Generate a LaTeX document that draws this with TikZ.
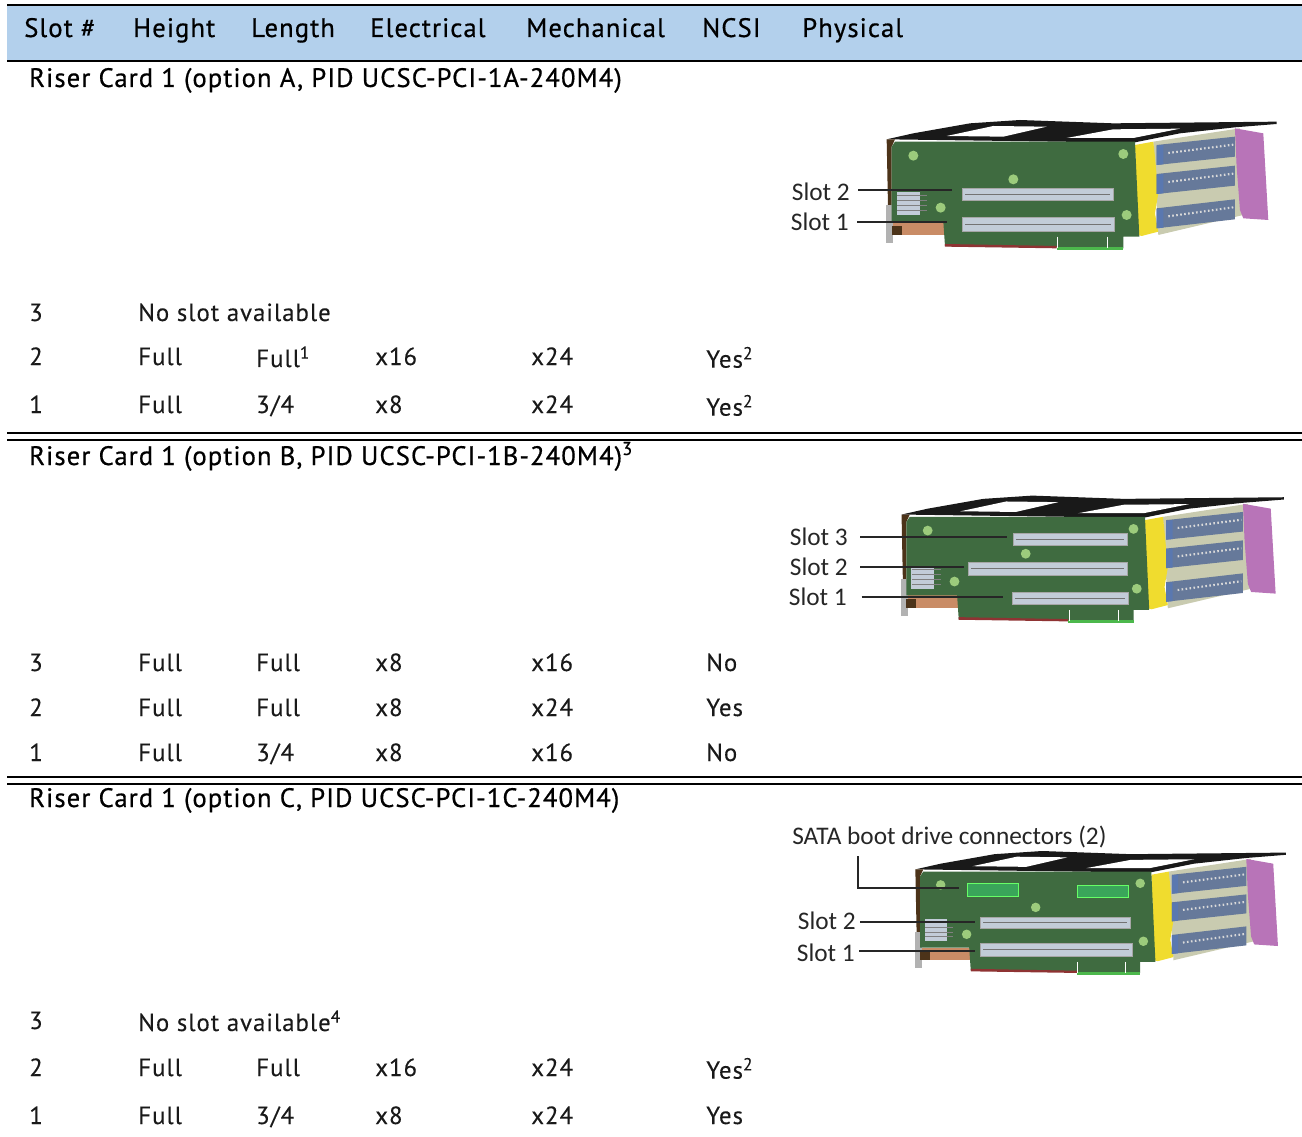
\documentclass[tikz,border=0pt]{standalone}
\usepackage{fontspec}
\setmainfont{PT Sans}[LetterSpace=4,FakeBold=0.15]
\newfontface\headfont{PT Sans}[FakeBold=0.6,LetterSpace=4]
\newfontfamily\calloutfont{Carlito}
\usetikzlibrary{positioning, arrows.meta}

\definecolor{headblue}{HTML}{B3D0EC}
\definecolor{boardgreen}{HTML}{3F6B40}
\definecolor{padgreen}{HTML}{9CCB7C}
\definecolor{slotgrey}{HTML}{C2CCD8}
\definecolor{cardyellow}{HTML}{F0DC2E}
\definecolor{cardkhaki}{HTML}{C9CBB0}
\definecolor{bandblue}{HTML}{66799A}
\definecolor{bandcap}{HTML}{5A78B0}
\definecolor{cardpurple}{HTML}{B874B8}
\definecolor{cardcopper}{HTML}{C98C66}
\definecolor{satagreen}{HTML}{3AA55A}

\begin{document}
\begin{tikzpicture}[
    x=0.75pt, y=-0.75pt,
    cell/.style={anchor=base west, inner sep=0pt, font=\fontsize{18.6}{22}\selectfont, text=black!90},
    head/.style={cell, text=black, font=\headfont\fontsize{20}{24}\selectfont},
    callout/.style={inner sep=0pt, font=\calloutfont\fontsize{19}{22}\selectfont, text=black!85},
    leader/.style={draw=black!85, line width=0.9pt},
    rule/.style={draw=black, line width=1.5pt},
    slotbody/.style={fill=slotgrey, draw=black!35, line width=0.3pt},
    slotline/.style={draw=black!55, line width=0.6pt},
    sata/.style={fill=satagreen, draw=green!60!white, line width=0.5pt},
    riserbody/.pic={
        % frame on top
        \fill[black!90] (320,118) -- (400,100) -- (570,70) -- (720,60) -- (1000,70) -- (1490,65)
            -- (1490,72) -- (1365,82) -- (1200,100) -- (1060,128) -- cycle;
        \fill[white] (500,108) -- (640,78) -- (800,80) -- (670,110) -- cycle;
        \fill[white] (860,114) -- (1000,88) -- (1200,86) -- (1060,114) -- cycle;
        % back plate
        \fill[cardkhaki] (1120,125) -- (1380,85) -- (1390,345) -- (1135,405) -- cycle;
        \fill[cardyellow] (1065,135) -- (1120,125) -- (1125,170) -- (1135,280) -- (1125,340)
            -- (1135,395) -- (1085,408) -- (1075,405) -- cycle;
        \foreach \ya/\yb in {135/110, 222/197, 325/298}{
            \fill[bandblue] (1130,\ya) -- (1365,\yb) -- (1365,\yb+60) -- (1130,\ya+60) -- cycle;
            \draw[white!85!black, line width=1.6pt, dash pattern=on 1.2pt off 1.8pt]
                (1165,\ya+24) -- (1360,\yb+24);
            \fill[bandcap] (1130,\ya+2) -- (1150,\ya) -- (1150,\ya+58) -- (1130,\ya+60) -- cycle;
        }
        \fill[cardpurple] (1365,85) -- (1450,100) -- (1465,360) -- (1390,355) -- (1380,330) -- (1370,200) -- cycle;
        % board
        \fill[black!60!brown] (320,118) -- (345,118) -- (335,140) -- (335,370) -- (325,370) -- cycle;
        \fill[cardcopper] (335,365) -- (495,365) -- (495,405) -- (335,405) -- cycle;
        \fill[black!30] (318,315) -- (340,315) -- (340,430) -- (318,430) -- cycle;
        \fill[black!60!brown] (335,378) -- (365,378) -- (365,405) -- (335,405) -- cycle;
        \fill[boardgreen] (345,125) -- (1065,125) -- (1078,410) -- (1030,410) -- (1030,445)
            -- (495,438) -- (490,365) -- (335,365) -- (335,140) -- cycle;
        \fill[red!45!black!80] (495,432) -- (830,438) -- (830,445) -- (495,440) -- cycle;
        \fill[green!60!black!70] (830,442) -- (1030,442) -- (1030,450) -- (830,450) -- cycle;
        \draw[white, line width=0.4pt] (832,410) -- (832,445) (983,410) -- (983,445);
        % small block
        \fill[slotgrey] (350,275) -- (420,275) -- (420,345) -- (350,345) -- cycle;
        \foreach \ya in {285,300,315,330}{
            \draw[black!50, line width=0.3pt] (352,\ya) -- (440,\ya);
        }
        % mounting pads
        \foreach \xa/\ya in {400/167, 1030/162, 700/238, 482/323, 1040/345}{
            \fill[padgreen] (\xa,\ya) circle (15);
        }
    },
]
\useasboundingbox (0,0) rectangle (1302,1137);

% Header
\fill[headblue] (7,6) rectangle (1302,61);
\draw[rule] (7,5.5) -- (1302,5.5);
\draw[rule] (7,61) -- (1302,61);
\node[head] (hslot) at (24,37) {Slot \#};
\node[head] (hheight) at (133,37) {Height};
\node[head] (hlength) at (251,37) {Length};
\node[head] (helec) at (370,37) {Electrical};
\node[head] (hmech) at (526,37) {Mechanical};
\node[head] (hncsi) at (702,37) {NCSI};
\node[head] (hphys) at (802,37) {Physical};

% Section titles
\node[head] (capa) at (29,87) {Riser Card 1 (option A, PID UCSC-PCI-1A-240M4)};
\node[head] (capb) at (29,465) {Riser Card 1 (option B, PID UCSC-PCI-1B-240M4)\textsuperscript{3}};
\node[head] (capc) at (29,807) {Riser Card 1 (option C, PID UCSC-PCI-1C-240M4)};

% Double rules
\foreach \ya in {433, 440, 777, 784}{
    \draw[rule] (7,\ya) -- (1302,\ya);
}

% Rows with no slot
\node[cell] (a3slot) at (29,321) {3};
\node[cell] (a3note) at (138,321) {No slot available};
\node[cell] (c3slot) at (29,1029) {3};
\node[cell] (c3note) at (138,1031) {No slot available\textsuperscript{4}};

% Rows
\foreach \rowid/\ya/\slotno/\hgt/\lng/\elec/\mech/\ncsi in {
    a2/365/2/Full/{\raisebox{-1.5pt}{Full\textsuperscript{1}}}/x16/x24/{\raisebox{-2pt}{Yes\textsuperscript{2}}},
    a1/413/1/Full/{3/4}/x8/x24/{\raisebox{-2pt}{Yes\textsuperscript{2}}},
    b3/671/3/Full/Full/x8/x16/No,
    b2/716/2/Full/Full/x8/x24/Yes,
    b1/761/1/Full/{3/4}/x8/x16/No,
    c2/1076/2/Full/Full/x16/x24/{\raisebox{-2pt}{Yes\textsuperscript{2}}},
    c1/1124/1/Full/{3/4}/x8/x24/Yes}{
    \node[cell] (\rowid slot) at (29,\ya) {\slotno};
    \node[cell] (\rowid hgt) at (138,\ya) {\hgt};
    \node[cell] (\rowid lng) at (256,\ya) {\lng};
    \node[cell] (\rowid elec) at (375,\ya) {\elec};
    \node[cell] (\rowid mech) at (531,\ya) {\mech};
    \node[cell] (\rowid ncsi) at (706,\ya) {\ncsi};
}

% Riser cards
\pic[scale=0.3333] (carda) at (780,100) {riserbody};
\pic[scale=0.3267] (cardb) at (797,476) {riserbody};
\pic[scale=0.3167] (cardc) at (814,832) {riserbody};

% PCIe slots
\foreach \xa/\ya/\xb/\yb in {962/188/1113/200, 962/217/1114/231,
    1013/533/1127/545, 968/562/1127/575, 1012/592/1128/604,
    980/917/1130/928, 980/943/1132/956}{
    \draw[slotbody] (\xa,\ya) rectangle (\xb,\yb);
    \draw[slotline] (\xa+3,\ya*0.5+\yb*0.5) -- (\xb-3,\ya*0.5+\yb*0.5);
}

% SATA connectors
\draw[sata] (967,883) rectangle (1018,896);
\draw[sata] (1077,885) rectangle (1128,897);

% Callouts
\node[callout, anchor=east] (a2lab) at (850,192) {Slot 2};
\node[callout, anchor=east] (a1lab) at (849,222) {Slot 1};
\coordinate (a2end) at (952,190);
\coordinate (a1end) at (947,222);
\node[callout, anchor=east] (b3lab) at (848,537) {Slot 3};
\node[callout, anchor=east] (b2lab) at (848,567) {Slot 2};
\node[callout, anchor=east] (b1lab) at (847,597) {Slot 1};
\coordinate (b3end) at (1007,537);
\coordinate (b2end) at (964,567);
\coordinate (b1end) at (1003,597);
\node[callout, anchor=east] (c2lab) at (856,921) {Slot 2};
\node[callout, anchor=east] (c1lab) at (855,953) {Slot 1};
\coordinate (c2end) at (975,922);
\coordinate (c1end) at (975,951);
\node[callout, anchor=west] (satalab) at (792,837) {SATA boot drive connectors (2)};
\coordinate (sataend) at (959,888);
\coordinate (satatop) at (858,856);

\draw[leader] ([xshift=6pt]a2lab.east |- a2end) -- (a2end);
\draw[leader] ([xshift=6pt]a1lab.east |- a1end) -- (a1end);
\draw[leader] ([xshift=9pt]b3lab.east |- b3end) -- (b3end);
\draw[leader] ([xshift=9pt]b2lab.east |- b2end) -- (b2end);
\draw[leader] ([xshift=11pt]b1lab.east |- b1end) -- (b1end);
\draw[leader] ([xshift=3pt]c2lab.east |- c2end) -- (c2end);
\draw[leader] ([xshift=3pt]c1lab.east |- c1end) -- (c1end);
\draw[leader] (satatop) |- (sataend);

\end{tikzpicture}
\end{document}
